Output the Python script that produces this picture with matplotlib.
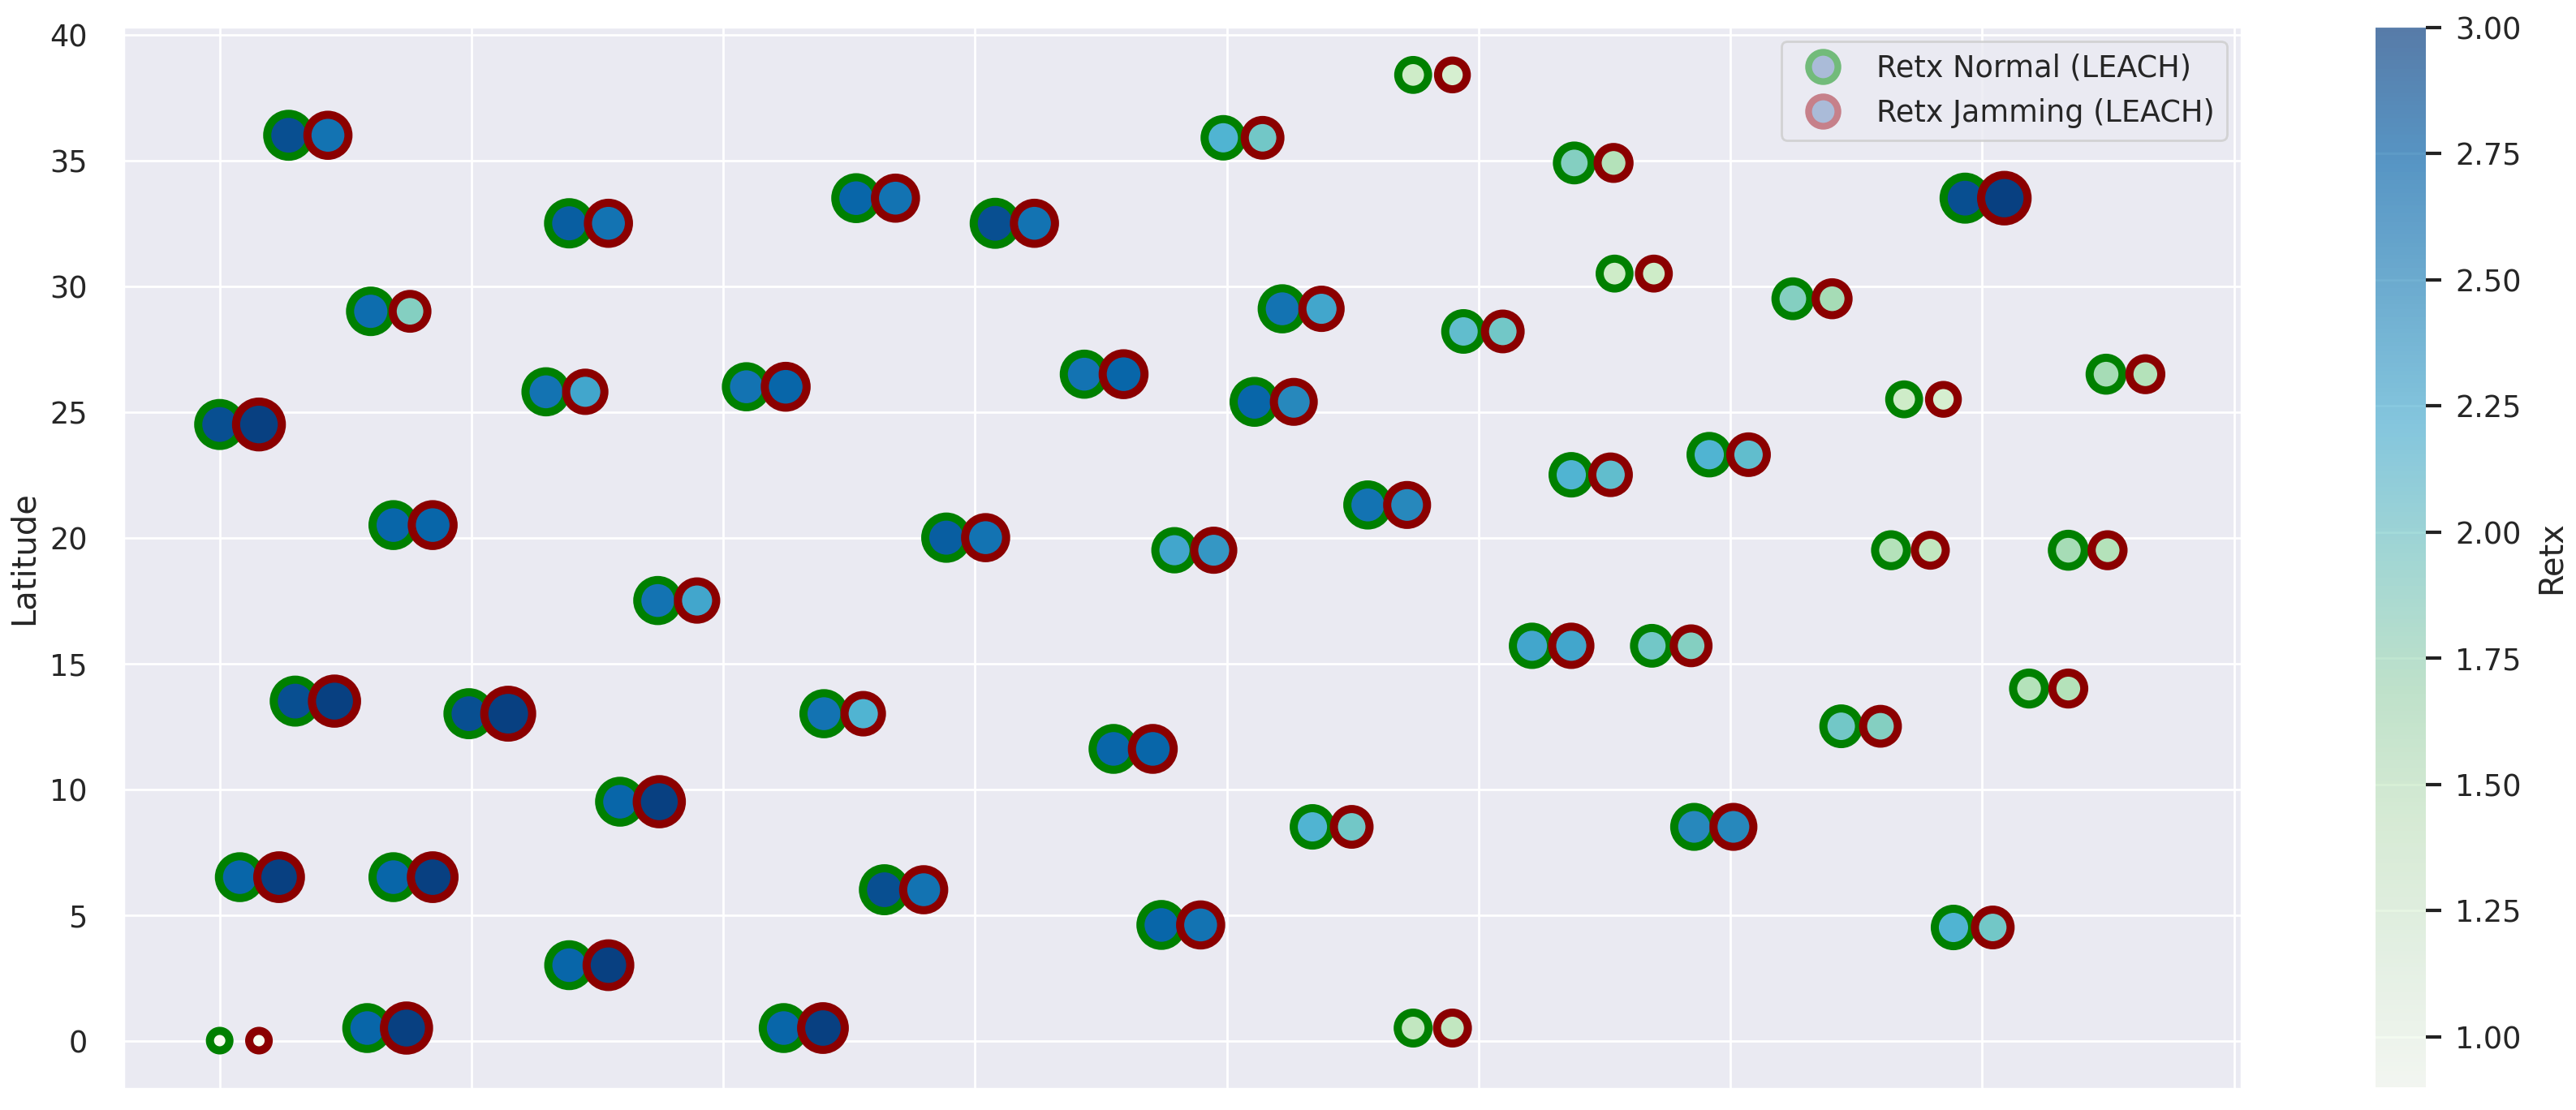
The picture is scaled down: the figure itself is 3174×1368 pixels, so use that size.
import matplotlib
matplotlib.use('Agg')
import matplotlib.pyplot as plt
import seaborn as sns
import numpy as np
from matplotlib.lines import Line2D
from matplotlib.colors import Normalize
from matplotlib.cm import ScalarMappable

sns.set_theme(style='darkgrid', font_scale=1.2)

# node positions (longitude, latitude)
lon = [0.0, 1.37, 3.0, 0.0, 3.45, 1.5, 0.4, 3.45, 2.93, 6.94,
       6.48, 8.7, 4.95, 7.95, 6.94, 12.64, 10.46, 12.0, 11.2, 14.43,
       13.2, 15.4, 17.17, 17.75, 18.7, 18.96, 19.93, 21.1, 20.55, 21.7,
       22.8, 23.7, 23.7, 24.7, 26.9, 26.06, 26.84, 27.7, 28.44, 29.58,
       29.28, 31.24, 32.2, 34.66, 33.45, 33.19, 34.43, 35.93, 37.46, 36.71]
lat = [0.0, 36.0, 29.0, 24.5, 20.5, 13.5, 6.5, 6.5, 0.5, 32.5,
       25.8, 17.5, 13.0, 9.5, 3.0, 33.5, 26.0, 13.0, 0.5, 20.0,
       6.0, 32.5, 26.5, 11.6, 4.6, 19.5, 35.9, 29.1, 25.4, 8.5,
       21.3, 38.4, 0.5, 28.2, 34.9, 15.7, 22.5, 30.5, 15.7, 23.3,
       8.5, 29.5, 12.5, 33.5, 25.5, 19.5, 4.5, 14.0, 26.5, 19.5]

# retransmissions per node
retx_normal = [0.6, 2.9, 2.7, 2.9, 2.75, 2.9, 2.75, 2.75, 2.75, 2.8,
               2.65, 2.65, 2.9, 2.75, 2.75, 2.75, 2.65, 2.65, 2.75, 2.8,
               2.9, 2.9, 2.65, 2.75, 2.75, 2.3, 2.2, 2.65, 2.75, 2.2,
               2.65, 1.4, 1.5, 2.1, 1.9, 2.3, 2.2, 1.4, 2.0, 2.2,
               2.5, 1.9, 2.0, 2.9, 1.4, 1.6, 2.2, 1.6, 1.7, 1.7]
retx_jamming = [0.6, 2.65, 1.9, 3.3, 2.75, 3.2, 3.0, 3.0, 3.2, 2.65,
                2.3, 2.3, 3.6, 3.2, 3.0, 2.65, 2.75, 2.2, 3.0, 2.65,
                2.65, 2.65, 2.75, 2.75, 2.65, 2.4, 2.0, 2.3, 2.5, 2.0,
                2.5, 1.3, 1.5, 2.0, 1.6, 2.3, 2.1, 1.4, 1.9, 2.1,
                2.5, 1.7, 1.9, 3.4, 1.3, 1.5, 2.0, 1.6, 1.6, 1.6]

jam_shift = 0.78
cbar_ticks = [1.00, 1.25, 1.50, 1.75, 2.00, 2.25, 2.50, 2.75, 3.00]

lon = np.array(lon)
lat = np.array(lat)
retx_normal = np.array(retx_normal)
retx_jamming = np.array(retx_jamming)

norm = Normalize(vmin=0.9, vmax=3.0)
cmap = 'GnBu'

fig = plt.figure(figsize=(15.87, 6.84), dpi=200)
ax = fig.add_axes([0.0479, 0.019, 0.8223, 0.957])
cax = fig.add_axes([0.9222, 0.0205, 0.0195, 0.955])

ax.scatter(lon, lat, c=retx_normal, s=retx_normal * 125, cmap=cmap, norm=norm,
           edgecolors='green', linewidths=3.6, zorder=3)
ax.scatter(lon + jam_shift, lat, c=retx_jamming, s=retx_jamming * 125, cmap=cmap, norm=norm,
           edgecolors='darkred', linewidths=3.6, zorder=3)

ax.set_ylabel('Latitude')
ax.set_yticks([0, 5, 10, 15, 20, 25, 30, 35, 40])
ax.set_xticks([0, 5, 10, 15, 20, 25, 30, 35, 40])
ax.set_xticklabels([])
ax.tick_params(axis='y', pad=10)

handles = [
    Line2D([], [], ls='', marker='o', markersize=13, markerfacecolor='#aabbd8',
           markeredgecolor='#72bb7a', markeredgewidth=3, label='Retx Normal (LEACH)'),
    Line2D([], [], ls='', marker='o', markersize=13, markerfacecolor='#aabbd8',
           markeredgecolor='#c6808a', markeredgewidth=3, label='Retx Jamming (LEACH)'),
]
ax.legend(handles=handles, loc='upper right')

sm = ScalarMappable(norm=norm, cmap=cmap)
cbar = fig.colorbar(sm, cax=cax, alpha=0.65, ticks=cbar_ticks)
cbar.outline.set_visible(False)
cbar.ax.tick_params(length=7, width=1.5, color='#222222', pad=6)
cbar.set_label('Retx', labelpad=6)

fig.savefig('out.png', dpi=200)
